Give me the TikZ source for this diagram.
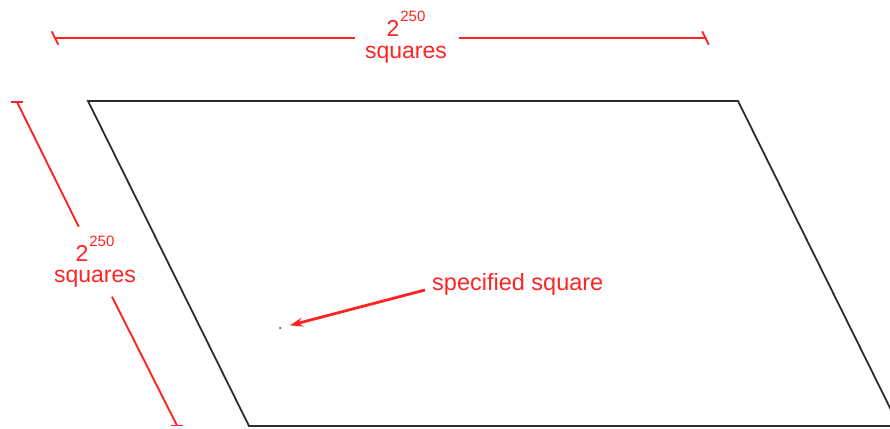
\documentclass[tikz,border=0pt]{standalone}
\usepackage{fontspec}
\setmainfont{Liberation Sans}
\usetikzlibrary{arrows.meta}
\definecolor{dimred}{RGB}{255,35,35}
\definecolor{edgegray}{RGB}{45,45,45}
\begin{document}
\begin{tikzpicture}[x=1pt,y=-1pt,
  edgeline/.style={draw=edgegray,line width=1.8pt,line join=miter},
  dimline/.style={draw=dimred,line width=1.9pt},
  lbl/.style={text=dimred,inner sep=0pt,font=\fontsize{23}{23}\selectfont},
  arrowline/.style={draw=dimred,line width=2.8pt,-{Stealth[length=13pt,width=9pt]}},
  dotstyle/.style={circle,fill=edgegray,inner sep=0pt,minimum size=2pt}
]
\useasboundingbox (0,0) rectangle (890,428);
\clip (0,0) rectangle (890,428);
% parallelogram
\coordinate (A) at (88,101);
\coordinate (B) at (738,101);
\coordinate (C) at (899,426);
\coordinate (D) at (249,426);
\draw[edgeline] (A) -- (B) -- (C) -- (D) -- cycle;
% top dimension
\coordinate (T1) at (55,38);
\coordinate (T1e) at (355,38);
\coordinate (T2s) at (459,38);
\coordinate (T2) at (705.5,38);
\draw[dimline] (T1) -- (T1e);
\draw[dimline] (T2s) -- (T2);
\draw[dimline] ([shift={(-3.3,-6.7)}]T1) -- ([shift={(3.3,6.7)}]T1);
\draw[dimline] ([shift={(-3.3,-6.7)}]T2) -- ([shift={(3.3,6.7)}]T2);
\node[lbl,anchor=base] (topexp) at (406,37) {2\kern1pt\raisebox{15pt}{\fontsize{15}{15}\selectfont 250}};
\node[lbl,anchor=base] (topsq) at (406,58) {squares};
% left dimension
\coordinate (L1) at (17,102);
\coordinate (L1e) at (78.7,226.7);
\coordinate (L2s) at (112,296.7);
\coordinate (L2) at (177,425.5);
\draw[dimline] (L1) -- (L1e);
\draw[dimline] (L2s) -- (L2);
\draw[dimline] ([xshift=-6pt]L1) -- ([xshift=6pt]L1);
\draw[dimline] ([xshift=-6pt]L2) -- ([xshift=6pt]L2);
\node[lbl,anchor=base] (leftexp) at (95,261) {2\kern1pt\raisebox{15pt}{\fontsize{15}{15}\selectfont 250}};
\node[lbl,anchor=base] (leftsq) at (95,282) {squares};
% specified square
\node[dotstyle] (dot) at (280,328) {};
\node[lbl,anchor=base west,font=\fontsize{23.5}{23.5}\selectfont] (spec) at (432,290) {specified square};
\draw[arrowline,shorten >=9pt] ([xshift=-7pt]spec.base west) -- (dot);
\end{tikzpicture}
\end{document}
